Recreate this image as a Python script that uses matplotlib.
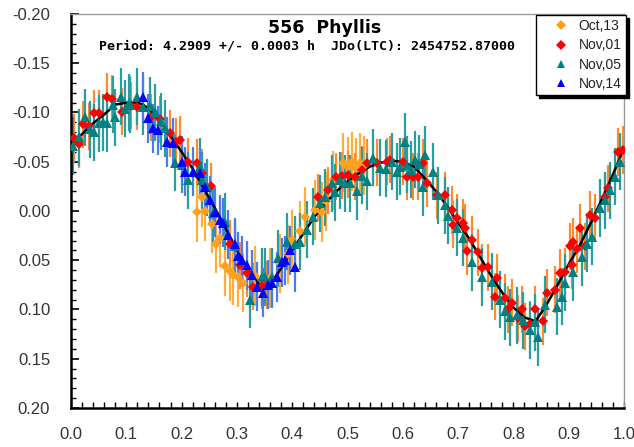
import matplotlib
matplotlib.use("Agg")
import matplotlib.pyplot as plt
from matplotlib.lines import Line2D
import numpy as np

plt.rcParams['axes.unicode_minus'] = False

# Fourier fit of the composite lightcurve
fit_phase = [0.00, 0.02, 0.04, 0.06, 0.08, 0.10, 0.12, 0.13, 0.14, 0.16, 0.18, 0.20,
             0.22, 0.24, 0.26, 0.28, 0.30, 0.32, 0.34, 0.35, 0.36, 0.38, 0.40, 0.42,
             0.44, 0.46, 0.48, 0.50, 0.52, 0.54, 0.56, 0.58, 0.60, 0.62, 0.64, 0.66,
             0.68, 0.70, 0.72, 0.74, 0.76, 0.78, 0.80, 0.82, 0.84, 0.86, 0.88, 0.90,
             0.92, 0.94, 0.96, 0.98, 1.00]
fit_mag = [-0.068, -0.078, -0.089, -0.098, -0.108, -0.110, -0.110, -0.108, -0.104, -0.092,
           -0.076, -0.060, -0.043, -0.023, -0.003, 0.018, 0.040, 0.059, 0.074, 0.077,
           0.075, 0.058, 0.040, 0.023, 0.006, -0.008, -0.020, -0.030, -0.038, -0.045,
           -0.049, -0.051, -0.050, -0.045, -0.033, -0.020, -0.005, 0.012, 0.028, 0.047,
           0.066, 0.083, 0.098, 0.108, 0.112, 0.095, 0.075, 0.054, 0.035, 0.012,
           -0.012, -0.037, -0.064]

# Oct,13
oct13_phase = [0.228, 0.237, 0.242, 0.255, 0.262, 0.270, 0.278, 0.288, 0.293, 0.302,
               0.311, 0.333, 0.345, 0.360, 0.378, 0.392, 0.400, 0.414, 0.423, 0.441,
               0.453, 0.462, 0.474, 0.492, 0.500, 0.508, 0.515, 0.522, 0.530]
oct13_mag = [0.001, -0.014, 0.000, 0.013, 0.033, 0.027, 0.056, 0.061, 0.065, 0.067,
             0.073, 0.066, 0.070, 0.068, 0.053, 0.044, 0.029, 0.020, 0.006, -0.001,
             0.001, -0.010, -0.031, -0.049, -0.045, -0.050, -0.044, -0.049, -0.046]
oct13_err = 0.030

# Nov,01
nov01_phase = [0.005, 0.015, 0.022, 0.033, 0.042, 0.050, 0.065, 0.075, 0.092, 0.108,
               0.119, 0.144, 0.161, 0.179, 0.190, 0.197, 0.212, 0.228, 0.236, 0.254,
               0.288, 0.306, 0.318, 0.330, 0.345, 0.355, 0.447, 0.465, 0.480, 0.490,
               0.501, 0.513, 0.526, 0.535, 0.553, 0.571, 0.577, 0.601, 0.607, 0.618,
               0.628, 0.637, 0.644, 0.662, 0.676, 0.689, 0.691, 0.698, 0.709, 0.712,
               0.716, 0.725, 0.736, 0.743, 0.754, 0.767, 0.770, 0.785, 0.790, 0.797,
               0.809, 0.815, 0.821, 0.830, 0.839, 0.854, 0.861, 0.875, 0.884, 0.893,
               0.902, 0.906, 0.908, 0.915, 0.920, 0.929, 0.938, 0.947, 0.966, 0.971,
               0.989, 0.998]
nov01_mag = [-0.074, -0.068, -0.088, -0.086, -0.099, -0.099, -0.116, -0.114, -0.101, -0.107,
             -0.106, -0.095, -0.093, -0.079, -0.070, -0.072, -0.050, -0.049, -0.039, -0.025,
             0.033, 0.055, 0.063, 0.077, 0.076, 0.075, -0.014, -0.021, -0.035, -0.036,
             -0.037, -0.035, -0.042, -0.049, -0.049, -0.050, -0.052, -0.050, -0.035, -0.035,
             -0.035, -0.049, -0.028, -0.016, -0.016, -0.001, 0.014, 0.007, 0.012, 0.017,
             0.041, 0.029, 0.042, 0.058, 0.057, 0.087, 0.068, 0.088, 0.100, 0.093,
             0.109, 0.100, 0.117, 0.115, 0.100, 0.112, 0.083, 0.080, 0.063, 0.062,
             0.036, 0.055, 0.031, 0.039, 0.017, 0.036, 0.004, 0.007, -0.014, -0.023,
             -0.060, -0.062]
nov01_err = 0.024

# Nov,05
nov05_phase = [0.003, 0.014, 0.025, 0.034, 0.042, 0.050, 0.058, 0.066, 0.076, 0.080,
               0.091, 0.098, 0.105, 0.107, 0.119, 0.130, 0.143, 0.152, 0.162, 0.170,
               0.188, 0.200, 0.212, 0.233, 0.237, 0.246, 0.257, 0.278, 0.297, 0.324,
               0.345, 0.351, 0.363, 0.375, 0.390, 0.405, 0.414, 0.426, 0.438, 0.450,
               0.459, 0.472, 0.477, 0.486, 0.495, 0.505, 0.517, 0.526, 0.535, 0.546,
               0.558, 0.570, 0.580, 0.590, 0.595, 0.604, 0.607, 0.614, 0.622, 0.630,
               0.637, 0.640, 0.655, 0.664, 0.676, 0.682, 0.698, 0.709, 0.725, 0.743,
               0.761, 0.776, 0.785, 0.794, 0.806, 0.818, 0.830, 0.839, 0.845, 0.857,
               0.878, 0.888, 0.893, 0.908, 0.924, 0.933, 0.942, 0.956, 0.966, 0.975,
               0.984, 0.993]
nov05_mag = [-0.066, -0.075, -0.095, -0.083, -0.080, -0.089, -0.090, -0.089, -0.108, -0.095,
             -0.116, -0.104, -0.110, -0.108, -0.116, -0.106, -0.107, -0.100, -0.091, -0.084,
             -0.049, -0.047, -0.031, -0.045, -0.031, -0.024, 0.002, 0.011, 0.036, 0.090,
             0.067, 0.067, 0.067, 0.048, 0.031, 0.034, 0.031, 0.019, 0.006, -0.008,
             -0.014, -0.028, -0.019, -0.031, -0.028, -0.028, -0.020, -0.036, -0.030, -0.054,
             -0.044, -0.043, -0.050, -0.040, -0.045, -0.070, -0.047, -0.042, -0.052, -0.048,
             -0.024, -0.057, -0.040, -0.016, -0.006, 0.005, 0.017, 0.027, 0.052, 0.067,
             0.072, 0.090, 0.102, 0.108, 0.106, 0.111, 0.121, 0.113, 0.128, 0.095,
             0.097, 0.087, 0.073, 0.062, 0.047, 0.033, 0.026, -0.003, -0.011, -0.021,
             -0.035, -0.050]
nov05_err = 0.029

# Nov,14
nov14_phase = [0.130, 0.140, 0.149, 0.158, 0.173, 0.185, 0.200, 0.206, 0.221, 0.233,
               0.242, 0.251, 0.260, 0.269, 0.275, 0.284, 0.297, 0.302, 0.310, 0.318,
               0.327, 0.337, 0.347, 0.357, 0.363, 0.372, 0.381, 0.387, 0.396, 0.405]
nov14_mag = [-0.116, -0.094, -0.084, -0.082, -0.070, -0.069, -0.050, -0.040, -0.040, -0.039,
             -0.024, -0.011, 0.001, 0.009, 0.012, 0.024, 0.033, 0.046, 0.050, 0.055,
             0.065, 0.077, 0.083, 0.075, 0.073, 0.067, 0.052, 0.050, 0.040, 0.057]
nov14_err = 0.025

series = [
    ("Oct,13", oct13_phase, oct13_mag, oct13_err, "#FFA020", "#FFAE3C", "D"),
    ("Nov,01", nov01_phase, nov01_mag, nov01_err, "#FF0000", "#FF8A30", "D"),
    ("Nov,05", nov05_phase, nov05_mag, nov05_err, "#008080", "#2A9E9E", "^"),
    ("Nov,14", nov14_phase, nov14_mag, nov14_err, "#0000FF", "#4A7CF0", "^"),
]
marker_size = {"D": 5.6, "^": 6.6}

fig = plt.figure(figsize=(6.34, 4.47), dpi=100)
ax = fig.add_axes([71 / 634, 1 - 408 / 447, 553 / 634, 394 / 447])

# error bars first, then the fit, then the markers
for name, ph, mg, err, mcol, ecol, mk in series:
    ax.errorbar(ph, mg, yerr=err, fmt='none', ecolor=ecol, elinewidth=1.6,
                capsize=0, zorder=2)
ax.plot(fit_phase, fit_mag, color='black', lw=1.8, zorder=3)
for name, ph, mg, err, mcol, ecol, mk in series:
    ax.plot(ph, mg, linestyle='none', marker=mk, color=mcol,
            markersize=marker_size[mk], markeredgewidth=0, zorder=4)

ax.set_xlim(0.0, 1.0)
ax.set_ylim(0.20, -0.20)
ax.set_xticks(np.arange(0, 1.01, 0.1))
ax.set_xticks(np.arange(0, 1.001, 0.02), minor=True)
ax.set_yticks(np.arange(-0.20, 0.201, 0.05))
ax.set_yticks(np.arange(-0.20, 0.201, 0.01), minor=True)
ax.set_xticklabels([f"{v:.1f}" for v in np.arange(0, 1.01, 0.1)])
ax.set_yticklabels([f"{v:.2f}".replace("-0.00", "0.00") for v in np.arange(-0.20, 0.201, 0.05)])

for lbl in ax.get_xticklabels() + ax.get_yticklabels():
    lbl.set_family("Liberation Sans")
    lbl.set_fontsize(12)
    lbl.set_color("#333333")

ax.tick_params(which='both', direction='in', top=False, right=False, color='black')
ax.tick_params(axis='y', which='major', length=6, width=1.2, pad=15)
ax.tick_params(axis='y', which='minor', length=3.5, width=1.0)
ax.tick_params(axis='x', which='major', length=4.5, width=1.0, pad=14)
ax.tick_params(axis='x', which='minor', length=4, width=1.0)

ax.spines['left'].set_linewidth(1.8)
ax.spines['bottom'].set_linewidth(1.8)
ax.spines['left'].set_color('black')
ax.spines['bottom'].set_color('black')
ax.spines['top'].set_color('#999999')
ax.spines['right'].set_color('#999999')
ax.spines['top'].set_linewidth(1.0)
ax.spines['right'].set_linewidth(1.0)

fig.text(325 / 634, 1 - 28 / 447, "556  Phyllis", ha='center', va='center',
         family="DejaVu Sans", fontsize=12.5, fontweight='bold')
fig.text(307 / 634, 1 - 46 / 447,
         "Period: 4.2909 +/- 0.0003 h  JDo(LTC): 2454752.87000",
         ha='center', va='center', family="DejaVu Sans Mono", fontsize=9.6,
         fontweight='bold')

handles = [Line2D([], [], linestyle='none', marker=mk, color=mcol,
                  markersize=marker_size[mk] * 0.95, markeredgewidth=0)
           for name, ph, mg, err, mcol, ecol, mk in series]
labels = [s[0] for s in series]
leg = fig.legend(handles, labels, loc='upper right',
                 bbox_to_anchor=(626 / 634, 1 - 15 / 447),
                 frameon=True, fancybox=False, shadow={'color': 'black', 'alpha': 1.0},
                 edgecolor='black', framealpha=1.0, borderaxespad=0,
                 prop={'family': 'Liberation Sans', 'size': 10},
                 handlelength=3.0, handletextpad=-0.2, labelspacing=0.38,
                 borderpad=0.3, markerfirst=True)
leg.get_frame().set_linewidth(1.0)
for t in leg.get_texts():
    t.set_color("#222222")

fig.savefig("out.png", dpi=100)
